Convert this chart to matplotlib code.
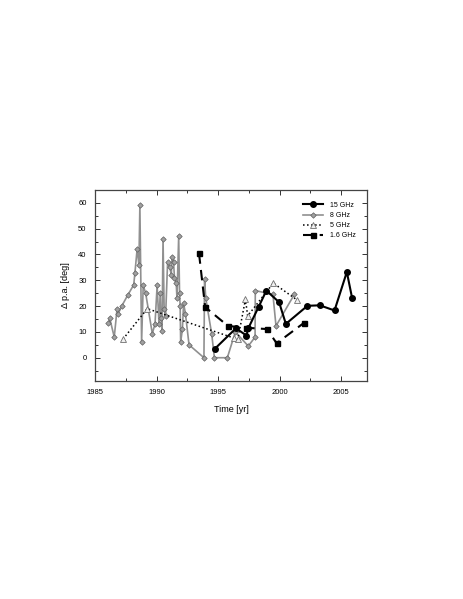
import matplotlib
matplotlib.use("Agg")
import matplotlib.pyplot as plt
from matplotlib.ticker import MultipleLocator

plt.rcParams['font.family'] = ['Liberation Sans', 'DejaVu Sans']

# 15 GHz
t15 = [1994.72, 1996.45, 1997.3, 1997.45, 1998.28, 1998.92, 1999.95, 2000.5,
       2002.25, 2003.25, 2004.45, 2005.45, 2005.87]
d15 = [3.4, 11.4, 8.6, 11.4, 19.6, 26.0, 21.5, 13.1, 20.1, 20.3, 18.3, 33.2, 23.3]

# 8 GHz
t8 = [1986.1, 1986.2, 1986.57, 1986.8, 1986.88, 1987.2, 1987.66, 1988.15, 1988.25,
      1988.43, 1988.57, 1988.65, 1988.79, 1988.92, 1989.12, 1989.66, 1989.88,
      1990.05, 1990.2, 1990.3, 1990.36, 1990.45, 1990.53, 1990.62, 1990.74,
      1990.9, 1991.08, 1991.2, 1991.26, 1991.38, 1991.46, 1991.6, 1991.66,
      1991.8, 1991.87, 1991.92, 1991.96, 1992.1, 1992.2, 1992.35, 1992.64,
      1993.85, 1993.9, 1994.0, 1994.48, 1994.7, 1995.75, 1996.4, 1997.45,
      1998.0, 1998.02, 1999.45, 1999.7, 2001.2]
d8 = [13.3, 15.3, 8.0, 19.0, 17.0, 20.2, 24.2, 28.2, 33.0,
      42.2, 36.0, 59.0, 6.0, 28.0, 25.0, 9.3, 13.2,
      28.0, 13.2, 25.0, 15.2, 10.2, 46.0, 19.0, 16.2,
      37.0, 35.0, 32.0, 39.0, 37.0, 31.0, 29.0, 23.0,
      47.0, 25.0, 20.0, 6.0, 11.0, 21.0, 17.0, 5.0,
      0.0, 30.3, 23.0, 9.2, 0.0, 0.0, 10.0, 4.5,
      8.0, 26.0, 24.5, 12.3, 24.6]

# 5 GHz
t5 = [1987.28, 1989.25, 1996.3, 1996.6, 1997.22, 1997.4, 1999.48, 2001.4]
d5 = [7.2, 19.0, 7.6, 7.1, 22.6, 16.2, 28.9, 22.4]

# 1.6 GHz
t16 = [1993.45, 1993.95, 1995.8, 1997.3, 1998.97, 1999.75, 2002.0]
d16 = [40.4, 19.6, 12.3, 11.6, 11.1, 5.6, 13.6]

fig = plt.figure(figsize=(4.63, 5.99), dpi=100)
ax = fig.add_axes([0.205, 0.364, 0.588, 0.319])

ax.plot(t8, d8, '-', color='#909090', lw=1.2, marker='D', ms=2.8,
        mfc='#a0a0a0', mec='#606060', mew=0.5, label='8 GHz', zorder=2)
ax.plot(t5, d5, ':', color='black', lw=1.1, marker='^', ms=4,
        mfc='#f0f0f0', mec='#707070', mew=0.6, label='5 GHz', zorder=3)
ax.plot(t16, d16, '--', color='black', lw=1.5, dashes=(5, 3), marker='s', ms=3.6,
        mfc='black', mec='black', label='1.6 GHz', zorder=4)
ax.plot(t15, d15, '-', color='black', lw=1.5, marker='o', ms=4,
        mfc='black', mec='black', label='15 GHz', zorder=5)

ax.set_xlim(1985, 2007.1)
ax.set_ylim(-9, 65)
ax.xaxis.set_major_locator(MultipleLocator(5))
ax.xaxis.set_minor_locator(MultipleLocator(2.5))
ax.yaxis.set_major_locator(MultipleLocator(10))
ax.yaxis.set_minor_locator(MultipleLocator(5))
ax.tick_params(which='both', direction='in', top=True, right=True,
               labelsize=5.5, width=0.7, color='#333333', pad=6)
ax.tick_params(which='major', length=3.5)
ax.tick_params(which='minor', length=2)
for s in ax.spines.values():
    s.set_linewidth(0.9)
    s.set_color('#444444')

ax.set_xlabel('Time [yr]', fontsize=6.5, labelpad=6)
ax.set_ylabel('Δ p.a. [deg]', fontsize=6.5, labelpad=6)

h, l = ax.get_legend_handles_labels()
order = [3, 0, 1, 2]
ax.legend([h[i] for i in order], [l[i] for i in order], loc='upper right',
          bbox_to_anchor=(0.98, 0.97), frameon=False, fontsize=5,
          handlelength=3.0, labelspacing=0.45, handletextpad=0.9)

fig.savefig('out.png', dpi=100)
